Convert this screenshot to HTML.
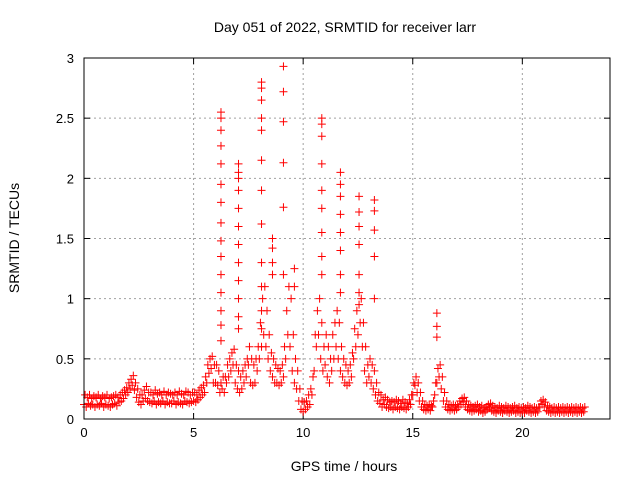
<!DOCTYPE html>
<html><head><meta charset="utf-8"><style>
body{margin:0;background:#fff;}
svg text{font-family:"Liberation Sans",sans-serif;fill:#000;}
</style></head><body>
<svg id="c" width="640" height="480" xmlns="http://www.w3.org/2000/svg">
<text x="345" y="32" font-size="14" text-anchor="middle">Day 051 of 2022, SRMTID for receiver larr</text>
<text x="344" y="471" font-size="14" text-anchor="middle">GPS time / hours</text>
<text transform="translate(19,238) rotate(-90)" font-size="14" text-anchor="middle">SRMTID / TECUs</text>
<g id="grid"></g><g id="ticks"></g><g id="pts"></g>
<rect x="84" y="58" width="526" height="361" fill="none" stroke="#000" stroke-width="1"/>
</svg>
<script>
const xTicks=[0,5,10,15,20];
const yTicks=[0,0.5,1,1.5,2,2.5,3];
const yTickLabels=["0","0.5","1","1.5","2","2.5","3"];
const baseStart=0, baseStep=0.1;
const baseLo=[0.12,0.1,0.13,0.11,0.12,0.1,0.12,0.11,0.13,0.1,0.12,0.11,0.1,0.12,0.13,0.11,0.14,0.15,0.17,0.2,
0.22,0.25,0.28,0.24,0.18,0.14,0.12,0.15,0.17,0.15,
0.14,0.13,0.15,0.12,0.14,0.13,0.15,0.12,0.14,0.13,
0.13,0.15,0.12,0.14,0.13,0.12,0.15,0.14,0.13,0.14,
0.15,0.14,0.16,0.18,0.2,0.22,0.3,0.38,0.42,0.3,
0.3,0.28,0.22,0.25,0.22,0.3,0.35,0.4,0.45,0.3,
0.25,0.22,0.25,0.3,0.35,0.45,0.3,0.28,0.3,0.4,
0.5,0.6,0.7,0.6,0.5,0.4,0.35,0.3,0.3,0.28,
0.3,0.35,0.5,0.7,0.6,0.4,0.3,0.25,0.15,0.08,
0.06,0.08,0.1,0.12,0.2,0.4,0.6,0.7,0.5,0.4,
0.45,0.35,0.3,0.4,0.5,0.6,0.5,0.4,0.35,0.3,
0.28,0.3,0.35,0.5,0.6,0.7,0.8,0.6,0.4,0.3,
0.35,0.3,0.25,0.2,0.15,0.13,0.1,0.12,0.1,0.09,
0.1,0.08,0.1,0.09,0.08,0.1,0.09,0.08,0.1,0.12,
0.2,0.28,0.22,0.15,0.1,0.08,0.07,0.08,0.07,0.1,
0.2,0.3,0.35,0.25,0.15,0.1,0.08,0.07,0.08,0.07,
0.08,0.1,0.12,0.14,0.1,0.08,0.07,0.06,0.07,0.08,
0.06,0.07,0.05,0.06,0.08,0.09,0.07,0.06,0.05,0.07,
0.06,0.05,0.07,0.06,0.05,0.06,0.07,0.05,0.06,0.05,
0.06,0.05,0.07,0.06,0.05,0.06,0.05,0.06,0.1,0.12,
0.1,0.07,0.06,0.05,0.06,0.05,0.06,0.05,0.06,0.05,
0.06,0.05,0.06,0.05,0.06,0.05,0.06,0.05,0.06];
const baseHi=[0.2,0.18,0.2,0.17,0.19,0.18,0.2,0.17,0.19,0.18,0.2,0.17,0.18,0.19,0.2,0.18,0.2,0.22,0.24,0.26,
0.3,0.33,0.36,0.3,0.25,0.2,0.2,0.24,0.27,0.22,
0.22,0.2,0.24,0.21,0.22,0.2,0.23,0.2,0.22,0.21,
0.2,0.22,0.2,0.23,0.21,0.2,0.23,0.22,0.2,0.22,
0.22,0.2,0.24,0.26,0.28,0.35,0.45,0.5,0.52,0.45,
0.45,0.4,0.3,0.35,0.35,0.45,0.5,0.55,0.58,0.45,
0.4,0.35,0.4,0.45,0.5,0.6,0.5,0.45,0.5,0.6,
0.8,1.0,1.1,0.9,0.7,0.55,0.5,0.45,0.42,0.4,
0.45,0.6,0.9,1.1,1.0,0.7,0.5,0.4,0.25,0.15,
0.14,0.15,0.2,0.25,0.35,0.7,0.9,1.0,0.8,0.6,
0.7,0.6,0.5,0.7,0.8,0.9,0.8,0.6,0.5,0.45,
0.4,0.45,0.55,0.75,0.9,0.95,1.0,0.8,0.6,0.45,
0.5,0.45,0.4,0.3,0.22,0.2,0.16,0.18,0.16,0.14,
0.15,0.14,0.16,0.15,0.13,0.16,0.14,0.13,0.16,0.2,
0.3,0.35,0.3,0.22,0.15,0.12,0.11,0.12,0.11,0.15,
0.3,0.42,0.45,0.35,0.22,0.15,0.12,0.11,0.12,0.11,
0.12,0.15,0.17,0.18,0.15,0.12,0.11,0.1,0.11,0.12,
0.1,0.11,0.09,0.1,0.12,0.13,0.11,0.1,0.09,0.11,
0.1,0.09,0.11,0.1,0.09,0.1,0.11,0.09,0.1,0.09,
0.1,0.09,0.11,0.1,0.09,0.1,0.09,0.1,0.15,0.16,
0.14,0.11,0.1,0.09,0.1,0.09,0.1,0.09,0.1,0.09,
0.1,0.09,0.1,0.09,0.1,0.09,0.1,0.09,0.1];
const spikeT=[6.25,7.05,8.1,8.6,9.1,9.6,10.85,11.7,12.55,13.25,16.1];
const spikeV=[[2.55,2.5,2.4,2.27,2.12,1.95,1.8,1.63,1.48,1.35,1.2,1.05,0.9,0.78,0.65],
[2.12,2.05,2.0,1.9,1.75,1.6,1.45,1.3,1.15,1.0,0.85,0.75],
[2.8,2.75,2.65,2.5,2.4,2.15,1.9,1.62,1.3,1.1,0.9,0.75],
[1.5,1.42,1.3,1.2],
[2.93,2.72,2.47,2.13,1.76,1.2],
[1.25,1.1],
[2.5,2.45,2.35,2.12,1.9,1.75,1.55,1.35,1.2],
[2.05,1.95,1.85,1.7,1.55,1.4,1.2,1.05],
[1.85,1.72,1.6,1.45,1.2,1.05],
[1.82,1.73,1.57,1.35,1.0],
[0.88,0.77,0.68]];
const L=84,R=610,T=58,B=419;
const X=v=>L+v*(R-L)/24;
const Y=v=>B-v*(B-T)/3;
const NS="http://www.w3.org/2000/svg";
function mk(tag,attrs,parent){const e=document.createElementNS(NS,tag);for(const k in attrs)e.setAttribute(k,attrs[k]);parent.appendChild(e);return e;}
const grid=document.getElementById('grid'),ticks=document.getElementById('ticks'),pts=document.getElementById('pts');
xTicks.forEach(v=>{const x=X(v);
 if(v>0){const g=mk('line',{x1:x,x2:x,y1:T,y2:B,stroke:'#a0a0a0','stroke-dasharray':'2,3'},grid);
 
 }
 mk('line',{x1:x,x2:x,y1:B,y2:B-6,stroke:'#000'},ticks);mk('line',{x1:x,x2:x,y1:T,y2:T+6,stroke:'#000'},ticks);
 const t=mk('text',{x:x,y:B+18,'font-size':13,'text-anchor':'middle'},ticks);t.textContent=v;
 
 });
yTicks.forEach((v,i)=>{const y=Y(v);
 if(v>0){const g=mk('line',{x1:L,x2:R,y1:y,y2:y,stroke:'#a0a0a0','stroke-dasharray':'2,3'},grid);
 
 }
 mk('line',{x1:L,x2:L+6,y1:y,y2:y,stroke:'#000'},ticks);mk('line',{x1:R,x2:R-6,y1:y,y2:y,stroke:'#000'},ticks);
 const t=mk('text',{x:L-10,y:y+5,'font-size':13,'text-anchor':'end'},ticks);t.textContent=yTickLabels[i];
 
 });
function cross(t,v){const x=X(t),y=Y(v);
 const p=mk('path',{d:`M${x-4},${y}h8M${x},${y-4}v8`,stroke:'#ff0000','stroke-width':1,fill:'none'},pts);
 
 }
baseLo.forEach((v,i)=>{const t=baseStart+i*baseStep;cross(t,v);cross(t+baseStep/2,baseHi[i]);});
spikeT.forEach((t,i)=>spikeV[i].forEach(v=>cross(t,v)));
</script>
</body></html>
